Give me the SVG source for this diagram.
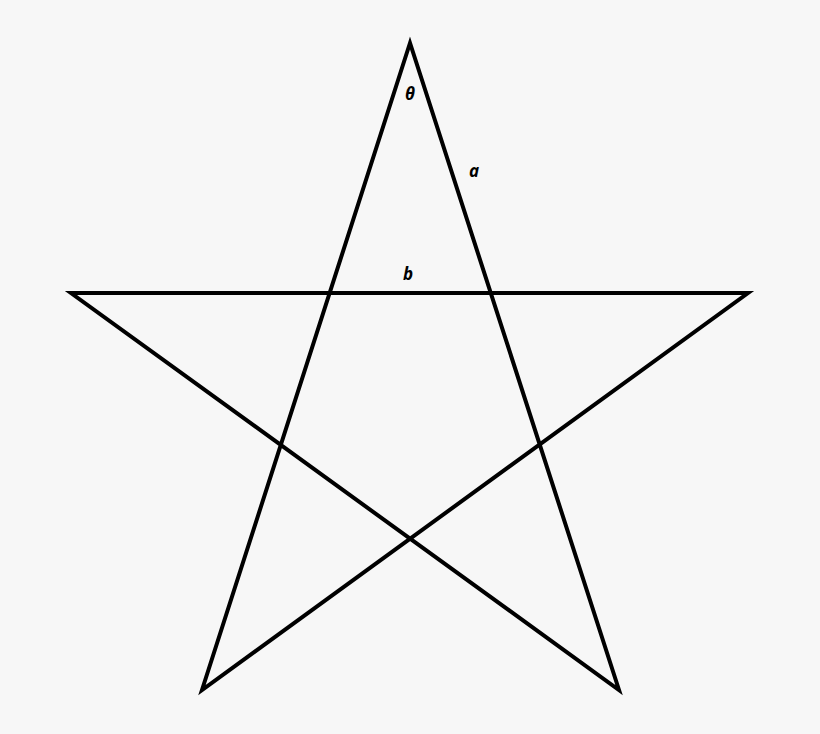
<svg xmlns="http://www.w3.org/2000/svg" width="820" height="734" viewBox="0 0 820 734">
<style>
.lbl{font-family:"Open Sans","Noto Sans",sans-serif;font-style:italic;font-weight:bold;font-size:17px;fill:#000;text-anchor:middle}
</style>
<rect width="820" height="734" fill="#f7f7f7"/>
<g id="star">
<path d="M410,43 L202,690 L748,293 L71,293 L619,690 Z" fill="none" stroke="#000" stroke-width="4" stroke-linejoin="miter" stroke-miterlimit="10"/>
</g>
<g id="labels">
<text class="lbl" x="410" y="100">θ</text>
<text class="lbl" x="474" y="177">a</text>
<text class="lbl" x="408" y="280">b</text>
</g>
</svg>
